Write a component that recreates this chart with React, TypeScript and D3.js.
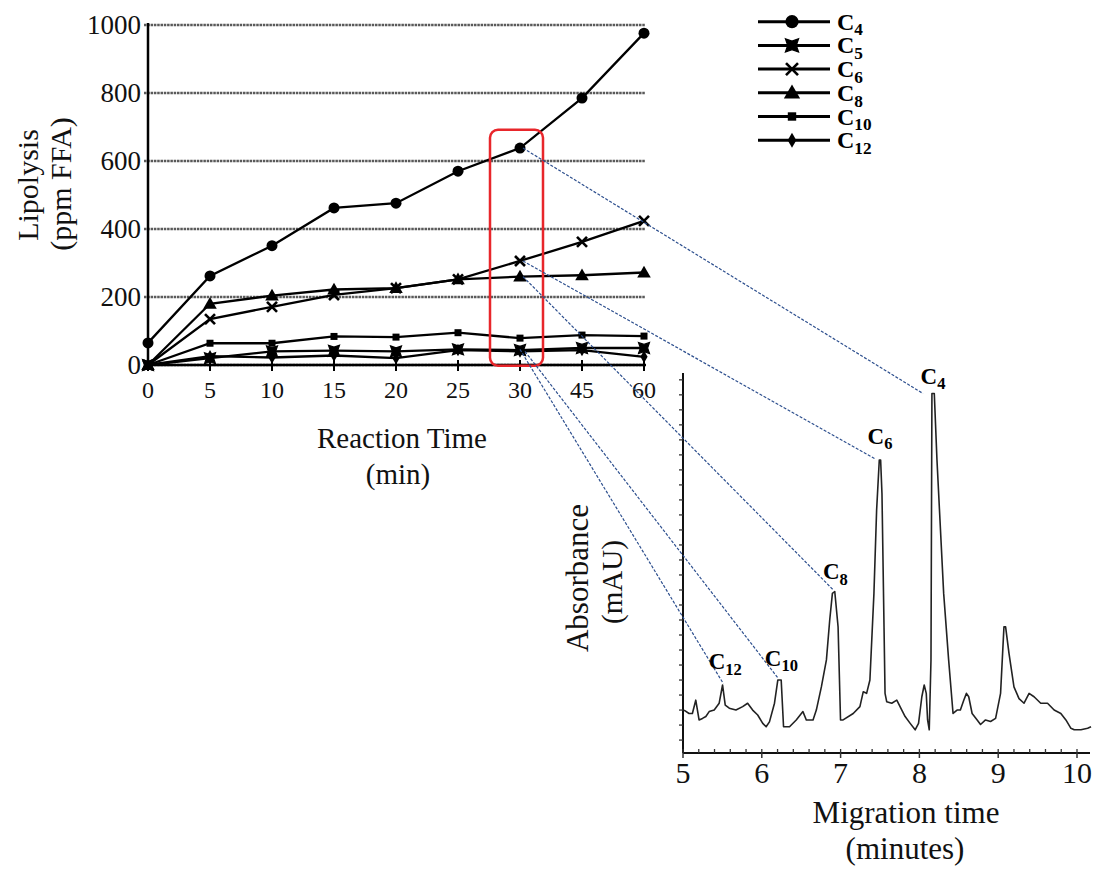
import React from "react";
import * as d3 from "d3";

// ---------- Data: lipolysis vs reaction time ----------
const reactionTimes = ["0", "5", "10", "15", "20", "25", "30", "45", "60"];
const lipoC4 = [65, 262, 351, 462, 476, 570, 638, 785, 976];
const lipoC5 = [0, 20, 40, 42, 40, 46, 44, 50, 50];
const lipoC6 = [0, 135, 171, 206, 226, 252, 306, 362, 424];
const lipoC8 = [0, 180, 204, 222, 226, 252, 260, 264, 272];
const lipoC10 = [0, 64, 64, 84, 82, 95, 79, 88, 85];
const lipoC12 = [0, 26, 22, 28, 20, 44, 40, 44, 24];
const lipoTicks = [0, 200, 400, 600, 800, 1000];

// ---------- Data: electropherogram ----------
const migrationTime = [
  5.013, 5.077, 5.119, 5.162, 5.204, 5.247, 5.29, 5.332, 5.396, 5.459, 5.502, 5.536, 5.587,
  5.672, 5.757, 5.82, 5.884, 5.948, 6.012, 6.055, 6.097, 6.161, 6.203, 6.246, 6.276, 6.352,
  6.437, 6.522, 6.565, 6.65, 6.692, 6.756, 6.82, 6.862, 6.896, 6.926, 6.968, 6.999, 7.032,
  7.16, 7.245, 7.287, 7.33, 7.372, 7.423, 7.457, 7.491, 7.508, 7.525, 7.564, 7.585, 7.649,
  7.713, 7.777, 7.819, 7.883, 7.946, 7.989, 8.031, 8.061, 8.087, 8.104, 8.125, 8.147, 8.159,
  8.189, 8.223, 8.308, 8.371, 8.427, 8.478, 8.52, 8.563, 8.597, 8.626, 8.669, 8.733, 8.776,
  8.839, 8.903, 8.967, 9.03, 9.073, 9.094, 9.137, 9.2, 9.264, 9.328, 9.392, 9.455, 9.54,
  9.626, 9.71, 9.795, 9.859, 9.923, 9.965, 10.05, 10.135, 10.178,
];
const absorbance = [
  11.3, 10.4, 10.4, 13.9, 8.7, 9.1, 9.6, 10.9, 11.3, 13.1, 17.9, 12.6, 11.8, 11.3, 12.2, 13.1,
  11.3, 10.0, 7.8, 6.9, 8.2, 13.1, 19.2, 19.2, 6.9, 6.9, 8.7, 10.9, 8.7, 8.7, 11.3, 17.4, 24.5,
  35, 42.0, 42.5, 33.2, 8.7, 8.7, 10.4, 12.2, 16.1, 15.7, 19.2, 42.0, 63.9, 77.1, 77.1, 68.3,
  15.7, 13.5, 13.1, 13.9, 11.3, 9.6, 7.8, 6.1, 7.8, 14.8, 17.9, 15.7, 8.7, 6.1, 24.5, 94.6, 94.6,
  77.1, 42.0, 24.5, 10.4, 11.3, 11.3, 13.9, 15.7, 14.8, 10.4, 8.7, 7.5, 8.7, 8.3, 9.1, 15.7,
  33.2, 33.2, 26.2, 17.4, 14.3, 13.1, 15.7, 14.8, 13.1, 13.1, 11.3, 10.4, 8.7, 6.5, 6.1, 6.1,
  6.5, 6.9,
];
const migrationTicks = [5, 6, 7, 8, 9, 10];

// peak annotation targets (migration time, absorbance)
const peakNames = ["4", "6", "8", "10", "12"];
const peakTime = [8.046, 7.437, 6.908, 6.21, 5.511];
const peakHeight = [94.6, 77.4, 42.9, 19.6, 18.3];

const FONT = "'Liberation Serif', 'Times New Roman', serif";

type Kind = "circle" | "bowtie" | "x" | "triangle" | "square" | "diamond";

const series: { name: string; values: number[]; kind: Kind }[] = [
  { name: "4", values: lipoC4, kind: "circle" },
  { name: "5", values: lipoC5, kind: "bowtie" },
  { name: "6", values: lipoC6, kind: "x" },
  { name: "8", values: lipoC8, kind: "triangle" },
  { name: "10", values: lipoC10, kind: "square" },
  { name: "12", values: lipoC12, kind: "diamond" },
];

function Marker({ kind, cx, cy, s = 1 }: { kind: Kind; cx: number; cy: number; s?: number }) {
  switch (kind) {
    case "circle":
      return <circle cx={cx} cy={cy} r={5.5 * s} fill="#000" />;
    case "bowtie": {
      const k = 5.5 * s;
      const p = 3.6 * s;
      return (
        <path
          d={`M${cx - k},${cy - k}L${cx},${cy - p}L${cx + k},${cy - k}L${cx + p},${cy}L${cx + k},${cy + k}L${cx},${cy + p}L${cx - k},${cy + k}L${cx - p},${cy}Z`}
          fill="#000"
          stroke="#000"
          strokeWidth={1.2}
        />
      );
    }
    case "x": {
      const k = 5 * s;
      return (
        <g stroke="#000" strokeWidth={2.6}>
          <line x1={cx - k} y1={cy - k} x2={cx + k} y2={cy + k} />
          <line x1={cx - k} y1={cy + k} x2={cx + k} y2={cy - k} />
        </g>
      );
    }
    case "triangle":
      return (
        <path
          d={d3.symbol().type(d3.symbolTriangle).size(80 * s * s)()!}
          transform={`translate(${cx},${cy + 1})`}
          fill="#000"
        />
      );
    case "square":
      return <rect x={cx - 3.5 * s} y={cy - 3.5 * s} width={7 * s} height={7 * s} fill="#000" />;
    case "diamond":
      return (
        <path
          d={d3.symbol().type(d3.symbolDiamond).size(45 * s * s)()!}
          transform={`translate(${cx},${cy})`}
          fill="#000"
        />
      );
  }
  return null;
}

function CLabel({ x, y, n, size = 22, anchor = "start" }: { x: number; y: number; n: string; size?: number; anchor?: string }) {
  return (
    <text x={x} y={y} fontFamily={FONT} fontWeight="bold" fontSize={size} textAnchor={anchor} fill="#000">
      <tspan>C</tspan>
      <tspan fontSize={size * 0.72} dy={size * 0.24}>
        {n}
      </tspan>
    </text>
  );
}

export default function App() {
  const x = d3.scalePoint<string>().domain(reactionTimes).range([148, 644]);
  const y = d3.scaleLinear().domain([0, 1000]).range([365, 25]);
  const mx = d3.scaleLinear().domain([5, 10]).range([683, 1077]);
  const my = d3.scaleLinear().domain([0, 100]).range([753, 373]);

  const line = d3
    .line<number>()
    .x((_, i) => x(reactionTimes[i])!)
    .y((d) => y(d));
  const trace = d3
    .line<number>()
    .x((_, i) => mx(migrationTime[i]))
    .y((d) => my(d));

  const x30 = x("30")!;
  const connectorStart: Record<string, [number, number]> = {
    "4": [x30 + 3, y(lipoC4[6])],
    "6": [x30 + 3, y(lipoC6[6])],
    "8": [x30 + 3, y(lipoC8[6])],
    "10": [x30 + 5, y(lipoC12[6])],
    "12": [x30, y(lipoC12[6]) - 2],
  };
  const labelOffset: Record<string, [number, number]> = {
    "4": [10, -10],
    "6": [5, -15],
    "8": [2, -11],
    "10": [3, -13],
    "12": [2, -14],
  };

  const legendY = (i: number) => 21.7 + i * 23.7;
  const minorTicks = d3.range(5, 10.001, 0.2);
  const yMinor = d3.range(3.4, 100, 3.95);

  return (
    <svg
      width={1097}
      height={871}
      style={{ position: "absolute", left: 0, top: 0, background: "#fff" }}
      fontFamily={FONT}
    >
      <rect x={0} y={0} width={1097} height={871} fill="#fff" />

      {/* ---------- Left chart ---------- */}
      {lipoTicks.map((t) => (
        <line
          key={"g" + t}
          x1={144}
          x2={645}
          y1={y(t)}
          y2={y(t)}
          stroke="#5a5a5a"
          strokeWidth={2.4}
          strokeDasharray="2.5,0.8"
        />
      ))}
      {lipoTicks.map((t) => (
        <text key={"yl" + t} x={141} y={y(t) + 9} fontSize={27} textAnchor="end" fill="#111">
          {t}
        </text>
      ))}
      {/* axes */}
      <line x1={148} x2={148} y1={y(1000) - 2} y2={y(0) + 1} stroke="#000" strokeWidth={2.5} />
      <line x1={146} x2={646} y1={y(0)} y2={y(0)} stroke="#000" strokeWidth={2.5} />
      {reactionTimes.map((c) => (
        <g key={"xt" + c}>
          <line x1={x(c)!} x2={x(c)!} y1={y(0) - 5} y2={y(0) + 6} stroke="#000" strokeWidth={2} />
          <text x={x(c)!} y={398} fontSize={24} textAnchor="middle" fill="#111">
            {c}
          </text>
        </g>
      ))}

      {/* series */}
      {series.map((s) => (
        <path key={"l" + s.name} d={line(s.values)!} fill="none" stroke="#000" strokeWidth={2.3} />
      ))}
      {series.map((s) =>
        s.values.map((v, i) => (
          <Marker key={"m" + s.name + i} kind={s.kind} cx={x(reactionTimes[i])!} cy={y(v)} />
        ))
      )}

      {/* axis titles */}
      <text transform="translate(38,185) rotate(-90)" fontSize={30} textAnchor="middle" fill="#111">
        Lipolysis
      </text>
      <text transform="translate(71,184) rotate(-90)" fontSize={30} textAnchor="middle" fill="#111">
        (ppm FFA)
      </text>
      <text x={402} y={448} fontSize={29} textAnchor="middle" fill="#111">
        Reaction Time
      </text>
      <text x={398} y={484} fontSize={29} textAnchor="middle" fill="#111">
        (min)
      </text>

      {/* legend */}
      {series.map((s, i) => (
        <g key={"lg" + s.name}>
          <line x1={758} x2={830} y1={legendY(i)} y2={legendY(i)} stroke="#000" strokeWidth={3} />
          <Marker kind={s.kind} cx={792} cy={legendY(i)} s={1.2} />
          <CLabel x={837} y={legendY(i) + 8} n={s.name} size={24} />
        </g>
      ))}

      {/* highlight box */}
      <rect
        x={x30 - 30}
        y={y(692)}
        width={53}
        height={y(-2) - y(692)}
        rx={8}
        ry={8}
        fill="none"
        stroke="#e8262b"
        strokeWidth={2.5}
      />

      {/* ---------- Right chart: electropherogram ---------- */}
      <line x1={mx(5)} x2={mx(5)} y1={my(100)} y2={my(0)} stroke="#111" strokeWidth={2} />
      <line x1={mx(5)} x2={1090} y1={my(0)} y2={my(0)} stroke="#111" strokeWidth={2} />
      {yMinor.map((v, i) => (
        <line key={"ym" + i} x1={mx(5) - 4} x2={mx(5)} y1={my(v)} y2={my(v)} stroke="#333" strokeWidth={1.3} />
      ))}
      {minorTicks.map((t, i) => (
        <line key={"xm" + i} x1={mx(t)} x2={mx(t)} y1={my(0) - 4} y2={my(0)} stroke="#333" strokeWidth={1.3} />
      ))}
      {migrationTicks.map((t) => (
        <g key={"mt" + t}>
          <line x1={mx(t)} x2={mx(t)} y1={my(0)} y2={my(0) + 5} stroke="#333" strokeWidth={1.5} />
          <text x={mx(t)} y={783} fontSize={30} textAnchor="middle" fill="#111">
            {t}
          </text>
        </g>
      ))}
      <path d={trace(absorbance)!} fill="none" stroke="#222" strokeWidth={1.6} strokeLinejoin="round" />

      <text x={906} y={823} fontSize={31} textAnchor="middle" fill="#111">
        Migration time
      </text>
      <text x={905} y={859} fontSize={31} textAnchor="middle" fill="#111">
        (minutes)
      </text>
      <text transform="translate(588,578) rotate(-90)" fontSize={31} textAnchor="middle" fill="#111">
        Absorbance
      </text>
      <text transform="translate(622,582) rotate(-90)" fontSize={29} textAnchor="middle" fill="#111">
        (mAU)
      </text>

      {/* connectors & peak labels */}
      {peakNames.map((n, i) => {
        const ex = mx(peakTime[i]);
        const ey = my(peakHeight[i]);
        const [sx, sy] = connectorStart[n];
        const [ox, oy] = labelOffset[n];
        return (
          <g key={"pk" + n}>
            <line x1={sx} y1={sy} x2={ex} y2={ey} stroke="#2d4f8e" strokeWidth={1.2} strokeDasharray="3,1.6" />
            <CLabel x={ex + ox} y={ey + oy} n={n} size={23} anchor="middle" />
          </g>
        );
      })}
    </svg>
  );
}
